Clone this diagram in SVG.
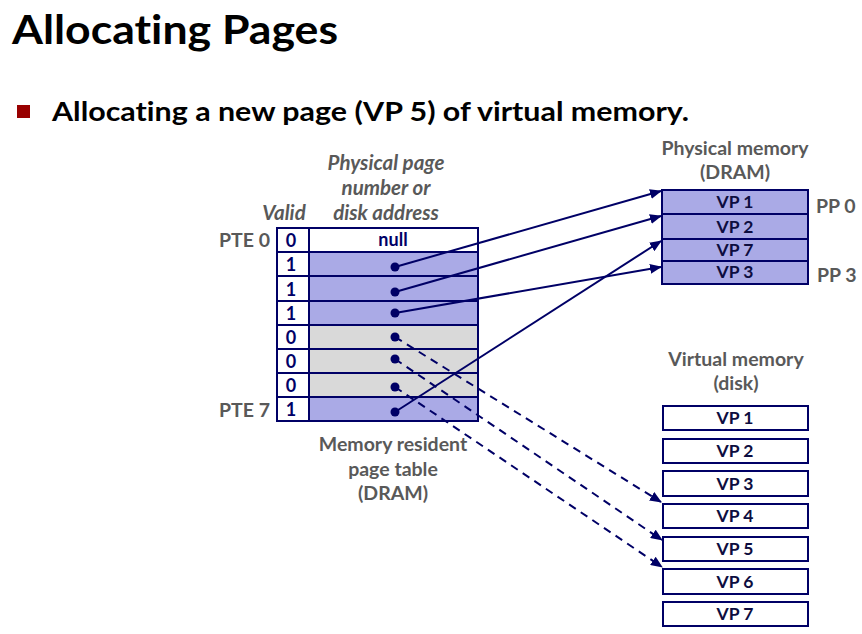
<svg xmlns="http://www.w3.org/2000/svg" width="862" height="634" viewBox="0 0 862 634">
<style>
.t{font-family:Lato,"Open Sans","Liberation Sans",sans-serif;font-weight:bold;font-variant-ligatures:none}
.g{fill:#595959;font-size:19.5px}
.i{font-style:italic;font-size:20.5px}
.c{fill:#000066;font-size:18px}
.vp{fill:#0d0d40;font-size:17.5px}
.box{stroke:#000066;stroke-width:2}
.blue{fill:#aaaae6}
.gray{fill:#d9d9d9}
.white{fill:#ffffff}
.ln{stroke:#000066;stroke-width:2;fill:none}
.dash{stroke-dasharray:8,6}
</style>
<defs>
<marker id="ah" markerUnits="userSpaceOnUse" markerWidth="12" markerHeight="10" viewBox="0 0 12 10" refX="11" refY="5" orient="auto">
<path d="M0,0 L12,5 L0,10 z" fill="#000066"/>
</marker>
</defs>
<rect width="862" height="634" fill="#ffffff"/>
<g id="title">
<text class="t" x="12" y="44" font-size="41" fill="#000000" textLength="326" lengthAdjust="spacingAndGlyphs">Allocating Pages</text>
</g>
<g id="bullet">
<rect x="17" y="105" width="13" height="13" fill="#990000"/>
<text class="t" x="52" y="121" font-size="26" fill="#000000" textLength="637" lengthAdjust="spacingAndGlyphs">Allocating a new page (VP 5) of virtual memory.</text>
</g>
<g id="page-table">
<text class="t g i" x="284" y="220" text-anchor="middle">Valid</text>
<text class="t g i" x="386" y="170" text-anchor="middle">Physical page</text>
<text class="t g i" x="386" y="195" text-anchor="middle">number or</text>
<text class="t g i" x="386" y="220" text-anchor="middle">disk address</text>
<text class="t g" x="270" y="247" text-anchor="end">PTE 0</text>
<text class="t g" x="270" y="417" text-anchor="end">PTE 7</text>
<rect class="box white" x="277" y="228" width="32" height="24"/>
<rect class="box white" x="309" y="228" width="169" height="24"/>
<rect class="box white" x="277" y="252" width="32" height="24"/>
<rect class="box blue" x="309" y="252" width="169" height="24"/>
<rect class="box white" x="277" y="276" width="32" height="25"/>
<rect class="box blue" x="309" y="276" width="169" height="25"/>
<rect class="box white" x="277" y="301" width="32" height="24"/>
<rect class="box blue" x="309" y="301" width="169" height="24"/>
<rect class="box white" x="277" y="325" width="32" height="24"/>
<rect class="box gray" x="309" y="325" width="169" height="24"/>
<rect class="box white" x="277" y="349" width="32" height="24"/>
<rect class="box gray" x="309" y="349" width="169" height="24"/>
<rect class="box white" x="277" y="373" width="32" height="24"/>
<rect class="box gray" x="309" y="373" width="169" height="24"/>
<rect class="box white" x="277" y="397" width="32" height="24"/>
<rect class="box blue" x="309" y="397" width="169" height="24"/>
<text class="t c" x="291" y="247" text-anchor="middle">0</text>
<text class="t c" x="291" y="271" text-anchor="middle">1</text>
<text class="t c" x="291" y="296" text-anchor="middle">1</text>
<text class="t c" x="291" y="320" text-anchor="middle">1</text>
<text class="t c" x="291" y="344" text-anchor="middle">0</text>
<text class="t c" x="291" y="368" text-anchor="middle">0</text>
<text class="t c" x="291" y="392" text-anchor="middle">0</text>
<text class="t c" x="291" y="416" text-anchor="middle">1</text>
<text class="t c" x="393" y="246" text-anchor="middle" font-size="17">null</text>
<text class="t g" x="393" y="451" text-anchor="middle">Memory resident</text>
<text class="t g" x="393" y="476" text-anchor="middle">page table</text>
<text class="t g" x="393" y="500" text-anchor="middle">(DRAM)</text>
</g>
<g id="physical-memory">
<text class="t g" x="735" y="155" text-anchor="middle">Physical memory</text>
<text class="t g" x="735" y="179" text-anchor="middle">(DRAM)</text>
<rect class="box blue" x="662" y="190" width="146" height="24"/>
<rect class="box blue" x="662" y="214" width="146" height="25"/>
<rect class="box blue" x="662" y="239" width="146" height="22"/>
<rect class="box blue" x="662" y="261" width="146" height="23"/>
<text class="t vp" x="735" y="208" text-anchor="middle">VP 1</text>
<text class="t vp" x="735" y="233" text-anchor="middle">VP 2</text>
<text class="t vp" x="735" y="256" text-anchor="middle">VP 7</text>
<text class="t vp" x="735" y="278" text-anchor="middle">VP 3</text>
<text class="t g" x="816" y="213" >PP 0</text>
<text class="t g" x="817" y="282">PP 3</text>
</g>
<g id="virtual-memory">
<text class="t g" x="736" y="366" text-anchor="middle">Virtual memory</text>
<text class="t g" x="736" y="390" text-anchor="middle">(disk)</text>
<rect class="box white" x="663" y="406" width="145" height="24"/>
<rect class="box white" x="663" y="439" width="145" height="24"/>
<rect class="box white" x="663" y="471" width="145" height="25"/>
<rect class="box white" x="663" y="504" width="145" height="24"/>
<rect class="box white" x="663" y="537" width="145" height="24"/>
<rect class="box white" x="663" y="569" width="145" height="25"/>
<rect class="box white" x="663" y="602" width="145" height="24"/>
<text class="t vp" x="735" y="424" text-anchor="middle">VP 1</text>
<text class="t vp" x="735" y="457" text-anchor="middle">VP 2</text>
<text class="t vp" x="735" y="490" text-anchor="middle">VP 3</text>
<text class="t vp" x="735" y="522" text-anchor="middle">VP 4</text>
<text class="t vp" x="735" y="555" text-anchor="middle">VP 5</text>
<text class="t vp" x="735" y="588" text-anchor="middle">VP 6</text>
<text class="t vp" x="735" y="620" text-anchor="middle">VP 7</text>
</g>
<g id="connectors">
<line class="ln" x1="395" y1="267" x2="661" y2="191" marker-end="url(#ah)"/>
<line class="ln" x1="395" y1="292" x2="661" y2="216" marker-end="url(#ah)"/>
<line class="ln" x1="395" y1="313" x2="661" y2="267" marker-end="url(#ah)"/>
<line class="ln" x1="395" y1="412" x2="661" y2="241" marker-end="url(#ah)"/>
<line class="ln dash" x1="395" y1="337" x2="661" y2="502" marker-end="url(#ah)"/>
<line class="ln dash" x1="395" y1="359" x2="662" y2="540" marker-end="url(#ah)"/>
<line class="ln dash" x1="395" y1="387" x2="662" y2="567" marker-end="url(#ah)"/>
<g fill="#000066">
<circle cx="395" cy="267" r="4.5"/>
<circle cx="395" cy="292" r="4.5"/>
<circle cx="395" cy="313" r="4.5"/>
<circle cx="395" cy="337" r="4.5"/>
<circle cx="395" cy="359" r="4.5"/>
<circle cx="395" cy="387" r="4.5"/>
<circle cx="395" cy="412" r="4.5"/>
</g>
</g>
</svg>
